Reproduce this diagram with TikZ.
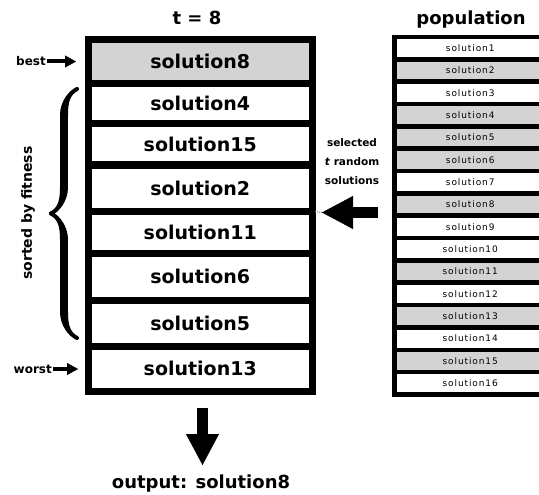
\documentclass[tikz,border=0pt]{standalone}
\usepackage{fontspec}
\setmainfont{DejaVu Sans}
\newfontfamily\popfont[LetterSpace=10]{DejaVu Sans}
\usetikzlibrary{arrows.meta,decorations.pathreplacing,calligraphy}
\definecolor{selgray}{RGB}{211,211,211}

\begin{document}
\begin{tikzpicture}[x=1pt,y=-1pt,
  lrow/.style={draw=black, line width=7pt, minimum width=223.5pt, inner sep=0pt,
    font=\bfseries\fontsize{19}{19}\selectfont},
  prow/.style={draw=black, line width=4.5pt, minimum width=151.5pt,
    minimum height=22.34pt, inner sep=0pt, font=\popfont\fontsize{9}{9}\selectfont},
  title/.style={font=\bfseries\fontsize{18}{18}\selectfont, inner sep=0pt},
  note/.style={font=\bfseries\fontsize{12}{12}\selectfont, inner sep=1pt},
  fatarrow/.style={line width=11pt, -{Triangle[length=31pt,width=33pt,line width=0.4pt]}},
  smallarrow/.style={line width=4pt, -{Triangle[length=11pt,width=12pt,line width=0.4pt]}},
]
\useasboundingbox (0,0) rectangle (539,495);
\clip (0,0) rectangle (539,495);

% titles
\node[title, anchor=base] (tlabel) at (197,25) {t = 8};
\node[title, anchor=base] (poplabel) at (471,25) {population};

% the tournament: t solutions sorted by fitness
\node[lrow, fill=selgray, minimum height=44pt]   (L1) at (200.25,61.5)   {solution8};
\node[lrow, fill=white,   minimum height=40pt]   (L2) at (200.25,103.5)  {solution4};
\node[lrow, fill=white,   minimum height=41.5pt] (L3) at (200.25,144.25) {solution15};
\node[lrow, fill=white,   minimum height=46.5pt] (L4) at (200.25,188.25) {solution2};
\node[lrow, fill=white,   minimum height=42pt]   (L5) at (200.25,232.5)  {solution11};
\node[lrow, fill=white,   minimum height=46.5pt] (L6) at (200.25,276.75) {solution6};
\node[lrow, fill=white,   minimum height=46pt]   (L7) at (200.25,323)    {solution5};
\node[lrow, fill=white,   minimum height=45.5pt] (L8) at (200.25,368.75) {solution13};

% the whole population
\foreach \i/\f in {1/white,2/selgray,3/white,4/selgray,5/selgray,6/selgray,7/white,8/selgray,
                   9/white,10/white,11/selgray,12/white,13/selgray,14/white,15/selgray,16/white}
  \node[prow, fill=\f] (p\i) at (470.25,{37+(\i-0.5)*22.34}) {solution\i};

% best / worst markers
\node[note, anchor=east] (best) at (47,61.5) {best};
\coordinate (bestTip) at (76,61.5);
\draw[smallarrow] (best.east) -- (bestTip);
\node[note, anchor=east] (worst) at (53,369) {worst};
\coordinate (worstTip) at (78,369);
\draw[smallarrow] (worst.east) -- (worstTip);

% brace and its label
\coordinate (braceLow) at (77,338);
\coordinate (braceHigh) at (77,89);
\draw[decorate, decoration={calligraphic brace, amplitude=26pt}, line width=8pt]
  (braceLow) -- (braceHigh);
\node[rotate=90, font=\bfseries\fontsize{14}{14}\selectfont] (sorted) at (28,213) {sorted by fitness};

% random selection from the population
\node[align=center, font=\bfseries\fontsize{10.5}{19}\selectfont] (selnote) at (352,162)
  {selected\\\textit{t} random\\solutions};
\coordinate (bigStart) at (378,212.5);
\coordinate (bigTip) at (322,212.5);
\coordinate (boxEdge) at (315,211.5);
\draw[fatarrow] (bigStart) -- (bigTip);
\draw[gray, densely dotted, line width=1pt] (boxEdge) -- (bigTip);

% result
\node[title, anchor=base] (output) at (201,488) {output: solution8};
\coordinate (outTop) at (202.5,408);
\coordinate (outTip) at (202.5,465);
\draw[fatarrow] (outTop) -- (outTip);
\end{tikzpicture}
\end{document}
